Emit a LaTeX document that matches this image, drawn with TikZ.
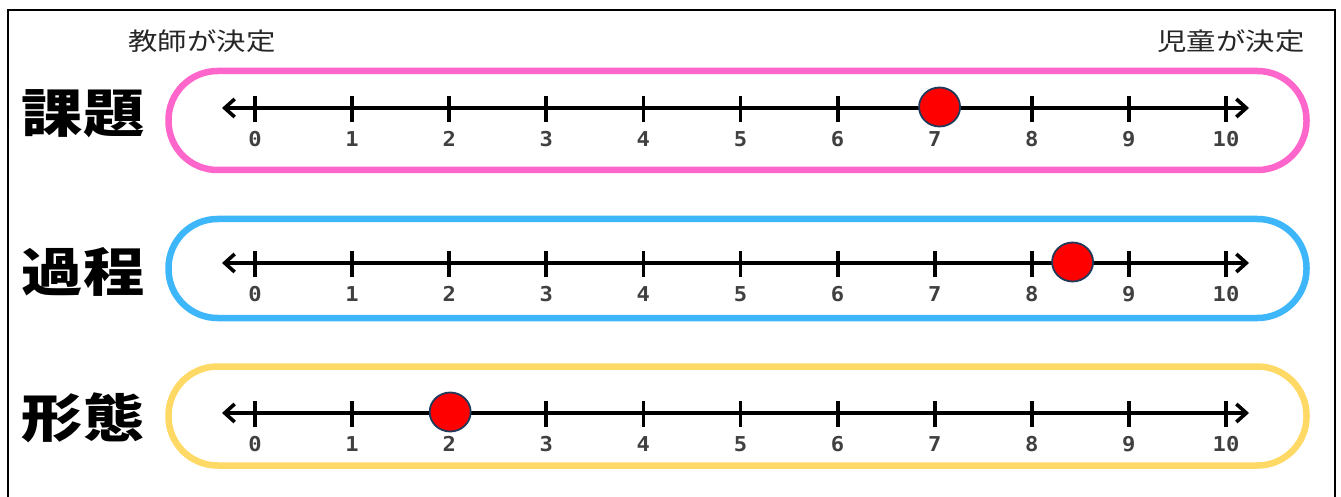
\documentclass[tikz,border=0pt]{standalone}
\usepackage{fontspec}
\usetikzlibrary{arrows.meta,shapes.geometric}
\newfontfamily\jp{Noto Sans CJK JP}
\newfontfamily\digitfont{DejaVu Sans Mono}
\definecolor{pinkc}{HTML}{FF66CC}
\definecolor{bluec}{HTML}{3DB6FA}
\definecolor{yellowc}{HTML}{FFD966}
\definecolor{dotedge}{HTML}{1F3A5A}
\definecolor{digitc}{HTML}{404040}
\begin{document}
\begin{tikzpicture}[x=1pt,y=-1pt,
  pill/.style={draw=#1, rectangle, rounded corners=49pt, minimum width=1138pt, minimum height=99pt, line width=6.5pt, inner sep=0pt},
  axisline/.style={line width=3.2pt, {Straight Barb[length=10pt,width=18pt,line width=3.6pt]}-{Straight Barb[length=10pt,width=18pt,line width=3.6pt]}},
  tickmark/.style={line width=3.8pt},
  digit/.style={font=\digitfont\bfseries\fontsize{20.5}{20.5}\selectfont, text=digitc, inner sep=0pt, xscale=1.08},
  rowlabel/.style={font=\jp\bfseries\fontsize{52}{52}\selectfont, xscale=1.18, inner sep=0pt},
  toplabel/.style={font=\jp\fontsize{24.5}{24.5}\selectfont, text=black!85, xscale=1.2, inner sep=0pt},
  dotmark/.style={ellipse, minimum width=41pt, minimum height=39pt, fill=red, draw=dotedge, line width=1.8pt, inner sep=0pt}
]
\useasboundingbox (0,0) rectangle (1341,497);
\fill[white] (0,0) rectangle (1341,497);
\draw[line width=1.6pt] (8,520) -- (8,10) -- (1335,10) -- (1335,520);

\node[toplabel] (teacher) at (202,41) {教師が決定};
\node[toplabel] (child) at (1231,41) {児童が決定};

\foreach \r/\py/\ay/\col/\lab/\ly/\dv in {1/120.5/108/pinkc/課題/114/7.05, 2/268.5/263/bluec/過程/272/8.42, 3/416/413/yellowc/形態/418/2.01}{
  \node[pill=\col] (pill\r) at (737.5,\py) {};
  \node[rowlabel] (label\r) at (83,\ly) {\lab};
  \coordinate (left\r) at (222,\ay);
  \coordinate (right\r) at (1249,\ay);
  \draw[axisline] (left\r) -- (right\r);
  \foreach \i in {0,...,10}{
    \coordinate (t\r-\i) at ({255+97.1*\i},\ay);
    \draw[tickmark] ([yshift=12pt]t\r-\i) -- ([yshift=-14pt]t\r-\i);
    \node[digit] (n\r-\i) at ([yshift=-31pt]t\r-\i) {\i};
  }
  \node[dotmark] (dot\r) at ({255+97.1*\dv},\ay-1) {};
}
\end{tikzpicture}
\end{document}
